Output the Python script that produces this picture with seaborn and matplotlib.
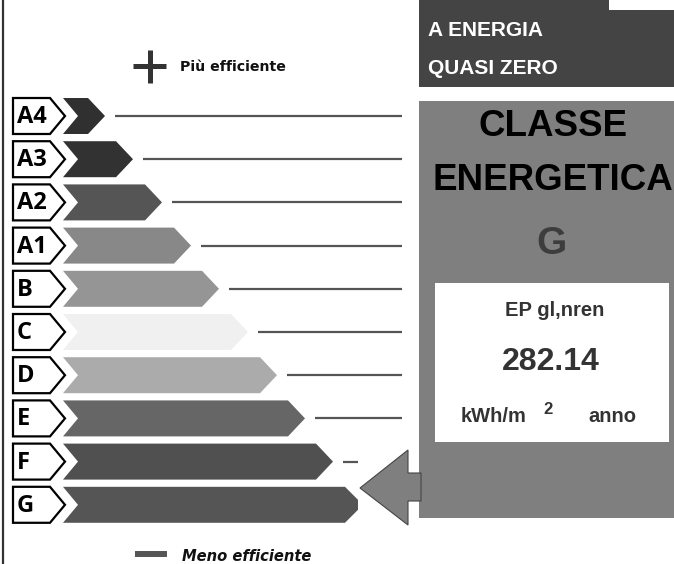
import matplotlib
matplotlib.use("Agg")
import matplotlib.pyplot as plt
import seaborn as sns
import pandas as pd
from matplotlib.patches import Polygon, Rectangle

# ---- data ----
classes = ["A4", "A3", "A2", "A1", "B", "C", "D", "E", "F", "G"]
bar_lengths = [42, 70, 99, 128, 156, 185, 214, 242, 270, 295]
bar_colors = ["#303030", "#323232", "#555555", "#888888", "#959595",
              "#f0f0f0", "#ababab", "#666666", "#505050", "#555555"]
current_class = "G"
ep_label = "EP gl,nren"
ep_value = "282.14"
unit_left = "kWh/m"
unit_sup = "2"
unit_right = "anno"
header_lines = ["A ENERGIA", "QUASI ZERO"]
panel_title = ["CLASSE", "ENERGETICA"]
top_label = "Più efficiente"
bottom_label = "Meno efficiente"

W, H = 674, 564
X0 = 63            # pixel where bars start
ROW0, ROWSTEP = 116, 43.2

sns.set_theme(style="white")
plt.rcParams["font.family"] = ["DejaVu Sans"]

fig = plt.figure(figsize=(W / 100, H / 100), dpi=100)
ax = fig.add_axes([0, 0, 1, 1])
df = pd.DataFrame({"cls": classes, "len": bar_lengths})
sns.barplot(data=df, x="len", y="cls", hue="cls", palette=bar_colors,
            orient="h", width=0.833, legend=False, ax=ax, saturation=1)
ax.set_xlim(-X0, W - X0)
ax.set_ylim((H - ROW0) / ROWSTEP, -ROW0 / ROWSTEP)
ax.axis("off")

px = lambda p: p / ROWSTEP  # pixel height -> category units

# chevron shapes from the seaborn bar patches
for patch in list(ax.patches):
    x0 = patch.get_x(); w = patch.get_width()
    y0 = patch.get_y(); h = patch.get_height()
    if w <= 0:
        continue
    col = patch.get_facecolor()
    patch.set_visible(False)
    x1 = x0 + w
    ym = y0 + h / 2
    notch, tip = 15, 17
    idx = int(round(ym))
    if classes[idx] == current_class:
        pts = [(x0, y0), (x1 - 13, y0), (x1, ym - px(5)), (x1, ym + px(5)),
               (x1 - 13, y0 + h), (x0, y0 + h), (x0 + notch, ym)]
    else:
        pts = [(x0, y0), (x1 - tip, y0), (x1, ym), (x1 - tip, y0 + h),
               (x0, y0 + h), (x0 + notch, ym)]
    ax.add_patch(Polygon(pts, closed=True, facecolor=col, edgecolor="none", zorder=3))
    # leader line
    arrow_top, arrow_bot, arrow_tip = 450, 525, 360
    ypix = ROW0 + ym * ROWSTEP
    start = x1 + 10
    end = 402 - X0
    if arrow_top <= ypix <= arrow_bot:
        end = arrow_tip - 2 - X0
    if end > start:
        ax.plot([start, end], [ym, ym], color="#555555", lw=1.6,
                solid_capstyle="butt", zorder=3)
    # class label box
    lx0, lx1, ltip = 13 - X0, 50 - X0, 65 - X0
    lab = [(lx0, y0), (lx1, y0), (ltip, ym), (lx1, y0 + h), (lx0, y0 + h)]
    ax.add_patch(Polygon(lab, closed=True, facecolor="white", edgecolor="black",
                         lw=1.6, joinstyle="miter", zorder=4))
    ax.text(17 - X0, ym + px(1), classes[idx], ha="left", va="center",
            fontsize=17, fontweight="bold", family=["Open Sans", "DejaVu Sans"],
            color="black", zorder=5)

# ---- overlay in pixel coordinates ----
ov = fig.add_axes([0, 0, 1, 1])
ov.set_xlim(0, W); ov.set_ylim(H, 0)
ov.axis("off"); ov.patch.set_alpha(0)

# left border
ov.plot([3, 3], [0, H], color="#333333", lw=1.6)

# plus / minus
ov.plot([133, 166], [66, 66], color="#333333", lw=3.6, solid_capstyle="butt")
ov.plot([149.5, 149.5], [50, 83], color="#333333", lw=3.6, solid_capstyle="butt")
ov.text(180, 67, top_label, ha="left", va="center", fontsize=10.2,
        fontweight="bold", color="#111111")
ov.plot([135, 167], [554, 554], color="#555555", lw=4.3, solid_capstyle="butt")
ov.text(182, 561, bottom_label, ha="left", va="baseline", fontsize=10.6,
        fontweight="bold", style="italic", color="#111111")

# dark header box
ov.add_patch(Rectangle((419, 0), W - 419, 87, facecolor="#444444", edgecolor="none"))
ov.add_patch(Rectangle((609, 0), W - 609, 10, facecolor="white", edgecolor="none"))
for txt, yy in zip(header_lines, [31, 68]):
    ov.text(428, yy, txt, ha="left", va="center", fontsize=15, fontweight="bold",
            color="white", family=["Liberation Sans", "DejaVu Sans"])

# gray panel
ov.add_patch(Rectangle((419, 101), W - 419, 417, facecolor="#7f7f7f", edgecolor="none"))
for txt, yy in zip(panel_title, [127, 181]):
    ov.text(553, yy, txt, ha="center", va="center", fontsize=26.5, fontweight="bold",
            color="black", family=["Liberation Sans", "DejaVu Sans"])
ov.text(552, 244, current_class, ha="center", va="center", fontsize=28,
        fontweight="bold", color="#3d3d3d", family=["Liberation Sans", "DejaVu Sans"])

# white value box
ov.add_patch(Rectangle((435, 283), 234, 159, facecolor="white", edgecolor="none"))
ov.text(555, 311, ep_label, ha="center", va="center", fontsize=14.5, fontweight="bold",
        color="#333333", family=["Liberation Sans", "DejaVu Sans"])
ov.text(551, 362, ep_value, ha="center", va="center", fontsize=23, fontweight="bold",
        color="#333333", family=["Liberation Sans", "DejaVu Sans"])
ov.text(461, 422, unit_left, ha="left", va="baseline", fontsize=14.5, fontweight="bold",
        color="#333333", family=["Liberation Sans", "DejaVu Sans"])
ov.text(543, 414, unit_sup, ha="left", va="baseline", fontsize=12, fontweight="bold",
        color="#333333", family=["Liberation Sans", "DejaVu Sans"])
ov.text(588, 422, unit_right, ha="left", va="baseline", fontsize=14.5, fontweight="bold",
        color="#333333", family=["Liberation Sans", "DejaVu Sans"])

# pointer arrow
arrow = [(360, 488), (408, 450), (408, 473), (421, 473), (421, 501),
         (408, 501), (408, 525)]
ov.add_patch(Polygon(arrow, closed=True, facecolor="#7f7f7f", edgecolor="#444444",
                     lw=0.8, joinstyle="miter"))

fig.savefig("out.png", dpi=100)
